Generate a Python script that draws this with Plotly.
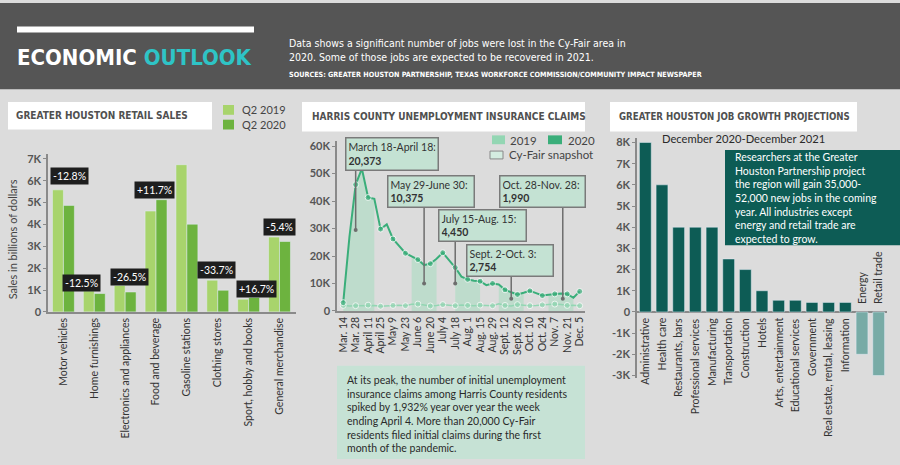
import plotly.graph_objects as go

W, H = 900, 465
def X(px): return px / W
def Y(py): return 1 - py / H

BODY = "Lato, 'Open Sans', sans-serif"
COND = "'DejaVu Sans', sans-serif"
def cond(t):
    return "<span style='font-stretch:condensed'>" + t + "</span>"

# ---------------- data ----------------
retail_categories = ["Motor vehicles", "Home furnishings", "Electronics and appliances",
                     "Food and beverage", "Gasoline stations", "Clothing stores",
                     "Sport, hobby and books", "General merchandise"]
retail_q2_2019 = [5580, 960, 1210, 4610, 6730, 1450, 580, 3420]
retail_q2_2020 = [4870, 840, 910, 5130, 4010, 990, 660, 3220]
retail_change_labels = ["-12.8%", "-12.5%", "-26.5%", "+11.7%", "-40.6%", "-33.7%", "+16.7%", "-5.4%"]

claim_weeks = ["2020-03-14", "2020-03-21", "2020-03-28", "2020-04-04", "2020-04-11", "2020-04-18",
               "2020-04-25", "2020-05-02", "2020-05-09", "2020-05-16", "2020-05-23", "2020-05-30",
               "2020-06-06", "2020-06-13", "2020-06-20", "2020-06-27", "2020-07-04", "2020-07-11",
               "2020-07-18", "2020-07-25", "2020-08-01", "2020-08-08", "2020-08-15", "2020-08-22",
               "2020-08-29", "2020-09-05", "2020-09-12", "2020-09-19", "2020-09-26", "2020-10-03",
               "2020-10-10", "2020-10-17", "2020-10-24", "2020-10-31", "2020-11-07", "2020-11-14",
               "2020-11-21", "2020-11-28", "2020-12-05"]
claims_2020 = [3000, 27000, 46000, 51800, 41300, 40800, 29800, 31500, 26200, 23500, 21000, 19900,
               18700, 16700, 17200, 19000, 21200, 18500, 15800, 12500, 11500, 11000, 10800, 9400,
               10000, 9600, 7700, 6800, 6000, 6600, 7300, 6500, 5600, 5900, 6200, 6300, 6200, 4800, 7100]
claims_2019 = [2000, 1800, 1900, 2000, 2100, 2000, 1700, 1900, 2000, 2100, 1900, 2400, 2500,
               2200, 1800, 2000, 2300, 2100, 1900, 2200, 2000, 1900, 2100, 2000, 1900, 2600,
               2000, 1800, 2300, 2100, 1900, 2000, 2200, 2400, 2500, 2300, 2000, 2100, 1900]
claim_tick_dates = claim_weeks[::2]
claim_tick_labels = ["Mar. 14", "Mar. 28", "April 11", "April 25", "May 9", "May 23", "June 6",
                     "June 20", "July 4", "July 18", "Aug. 1", "Aug. 15", "Aug. 29", "Sept. 12",
                     "Sept. 26", "Oct. 10", "Oct. 24", "Nov. 7", "Nov. 21", "Dec. 5"]
snapshot_start = ["2020-03-14", "2020-05-30", "2020-07-18", "2020-09-05", "2020-10-31"]
snapshot_end = ["2020-04-18", "2020-06-27", "2020-08-15", "2020-10-03", "2020-11-28"]
snapshot_periods = ["March 18-April 18:", "May 29-June 30:", "July 15-Aug. 15:",
                    "Sept. 2-Oct. 3:", "Oct. 28-Nov. 28:"]
snapshot_claims = ["20,373", "10,375", "4,450", "2,754", "1,990"]

job_categories = ["Administrative", "Health care", "Restaurants, bars", "Professional services",
                  "Manufacturing", "Transportation", "Construction", "Hotels",
                  "Arts, entertainment", "Educational services", "Government",
                  "Real estate, rental, leasing", "Information", "Energy", "Retail trade"]
job_growth = [8000, 6000, 4000, 4000, 4000, 2500, 2000, 1000, 550, 550, 450, 450, 450, -2000, -3000]

# ---------------- colors ----------------
BG = "#dcdcdc"
C19 = "#a8d46c"
C20 = "#6db33f"
M19 = "#93d6b3"
M20 = "#3aae7a"
BAND = "rgba(165,220,192,0.55)"
BOX = "#c4e2d3"
TEAL = "#0d5c55"
TEAL_L = "#78aba6"
AXIS = "#8a8a8a"
TXT = "#333333"

fig = go.Figure()

# ---- left: retail bars ----
fig.add_trace(go.Bar(x=retail_categories, y=retail_q2_2019, marker_color=C19,
                     xaxis="x", yaxis="y", offsetgroup="a", showlegend=False))
fig.add_trace(go.Bar(x=retail_categories, y=retail_q2_2020, marker_color=C20,
                     xaxis="x", yaxis="y", offsetgroup="b", showlegend=False))

# ---- middle: claims ----
for s, e in zip(snapshot_start, snapshot_end):
    bx = [d for d in claim_weeks if s <= d <= e]
    by = [v for d, v in zip(claim_weeks, claims_2020) if s <= d <= e]
    fig.add_trace(go.Scatter(x=bx, y=by, mode="none", fill="tozeroy", fillcolor=BAND,
                             xaxis="x2", yaxis="y2", showlegend=False, hoverinfo="skip"))
msize = [6 if i % 2 == 0 else 0 for i in range(len(claim_weeks))]
fig.add_trace(go.Scatter(x=claim_weeks, y=claims_2019, mode="lines+markers",
                         line=dict(color=M19, width=1.5), marker=dict(size=msize, color=M19),
                         xaxis="x2", yaxis="y2", showlegend=False))
fig.add_trace(go.Scatter(x=claim_weeks, y=claims_2020, mode="lines+markers",
                         line=dict(color=M20, width=2), marker=dict(size=msize, color=M20),
                         xaxis="x2", yaxis="y2", showlegend=False))

# ---- right: job growth ----
fig.add_trace(go.Bar(x=job_categories, y=job_growth,
                     marker_color=[TEAL if v >= 0 else TEAL_L for v in job_growth],
                     xaxis="x3", yaxis="y3", showlegend=False))

shapes = []
ann = []

def rect(x0, y0, x1, y1, fill, line=None, lw=0):
    shapes.append(dict(type="rect", xref="paper", yref="paper", x0=X(x0), x1=X(x1),
                       y0=Y(y1), y1=Y(y0), fillcolor=fill,
                       line=dict(color=line or fill, width=lw), layer="below"))

def text(x, y, t, size=11, color=TXT, family=BODY, xanchor="left", yanchor="middle",
         weight="normal", align="left", angle=0):
    ann.append(dict(xref="paper", yref="paper", x=X(x), y=Y(y), text=t, showarrow=False,
                    xanchor=xanchor, yanchor=yanchor, align=align, textangle=angle,
                    font=dict(size=size, color=color, family=family, weight=weight)))

# header
rect(0, 0, 900, 88, "#555555")
rect(17, 24, 254, 30, "#ffffff")
text(15, 56, cond("ECONOMIC <span style='color:#2ec4c6'>OUTLOOK</span>"), size=22,
     color="#ffffff", family=COND, weight="bold")
text(287, 48, cond("Data shows a significant number of jobs were lost in the Cy-Fair area in<br>"
     "2020. Some of those jobs are expected to be recovered in 2021."),
     size=10.5, color="#ffffff", family=COND)
text(287, 73, cond("SOURCES: GREATER HOUSTON PARTNERSHIP, TEXAS WORKFORCE COMMISSION/COMMUNITY IMPACT NEWSPAPER"),
     size=7.2, color="#ffffff", family=COND, weight="bold")

# section title boxes
rect(8, 101, 212, 129, "#ffffff")
text(14, 115, cond("GREATER HOUSTON RETAIL SALES"), size=10, color="#505050", family=COND, weight="bold")
rect(302, 101, 585, 131, "#ffffff")
text(310, 116, cond("HARRIS COUNTY UNEMPLOYMENT INSURANCE CLAIMS"), size=10, color="#505050",
     family=COND, weight="bold")
rect(610, 101, 857, 131, "#ffffff")
text(617, 116, cond("GREATER HOUSTON JOB GROWTH PROJECTIONS"), size=9.6, color="#505050",
     family=COND, weight="bold")

# left legend
rect(223, 104, 234, 114, C19)
rect(223, 119, 234, 129, C20)
text(240, 109, "Q2 2019", size=11, color="#444")
text(240, 124, "Q2 2020", size=11, color="#444")
text(12, 241, "Sales in billions of dollars", size=11, color="#444", xanchor="center", angle=-90)

# change labels on retail bars
label_y = [6230, 1300, 1610, 5560, 7310, 1930, 1030, 3860]
label_dx = [6, -13, 4, -2, 1, -1, 8, 0]
for c, lab, ly, dx in zip(retail_categories, retail_change_labels, label_y, label_dx):
    ann.append(dict(xref="x", yref="y", x=c, y=ly, text=lab, showarrow=False, xshift=dx,
                    bgcolor="#1e1e1e", borderpad=2,
                    font=dict(size=10.5, color="#ffffff", family=BODY)))

# middle legend
rect(492, 135, 505, 144, M19)
text(508, 140, "2019", size=11.5, color="#444")
rect(548, 135, 562, 144, M20)
text(566, 140, "2020", size=11.5, color="#444")
rect(490, 151, 503, 159, "#d4ece0", line="#888", lw=1)
text(507, 155, "Cy-Fair snapshot", size=11.5, color="#444")

# snapshot pointer lines
ptr_x = ["2020-03-28", "2020-06-13", "2020-07-18", "2020-09-19", "2020-11-16"]
ptr_y0 = [29500, 10000, 10000, 4400, 4400]
ptr_y1 = [51000, 38000, 25400, 12900, 38000]
for px_, a, b in zip(ptr_x, ptr_y0, ptr_y1):
    shapes.append(dict(type="line", xref="x2", yref="y2", x0=px_, x1=px_, y0=a, y1=b,
                       line=dict(color="#6e6e6e", width=1.5)))
fig.add_trace(go.Scatter(x=ptr_x, y=ptr_y0, mode="markers", marker=dict(size=4, color="#6e6e6e"),
                         xaxis="x2", yaxis="y2", showlegend=False, hoverinfo="skip"))

box_pos = [(345, 137, 95, 34), (387, 175, 89, 33), (438, 210, 90, 33),
           (466, 246, 89, 33), (499, 175, 88, 33)]
for (bx, by, bw, bh), p, n in zip(box_pos, snapshot_periods, snapshot_claims):
    ann.append(dict(xref="paper", yref="paper", x=X(bx), y=Y(by), xanchor="left", yanchor="top",
                    text=f"{p}<br><b>{n}</b>", showarrow=False, align="left",
                    width=bw - 8, height=bh - 7, bgcolor=BOX, bordercolor="#7a7a7a",
                    borderwidth=1.5, borderpad=2,
                    font=dict(size=10.5, color=TXT, family=BODY)))

# middle bottom text box
rect(337, 370, 585, 465, "#c6e2d5")
text(345, 419, "At its peak, the number of initial unemployment<br>"
     "insurance claims among Harris County residents<br>"
     "spiked by 1,932% year over year the week<br>"
     "ending April 4. More than 20,000 Cy-Fair<br>"
     "residents filed initial claims during the first<br>"
     "month of the pandemic.", size=10.5, color="#2a2a2a")

# right chart extras
text(743, 138, "December 2020-December 2021", size=11.2, color="#2a2a2a", xanchor="center")
rect(725, 150, 900, 247, TEAL)
text(733, 199, "Researchers at the Greater<br>Houston Partnership project<br>"
     "the region will gain 35,000-<br>52,000 new jobs in the coming<br>"
     "year. All industries except<br>energy and retail trade are<br>expected to grow.",
     size=10.5, color="#ffffff")
for c, v in zip(job_categories, job_growth):
    ann.append(dict(xref="x3", yref="y3", x=c, y=0, text=c, showarrow=False, textangle=-90,
                    xanchor="center", yanchor="top" if v >= 0 else "bottom",
                    yshift=-4 if v >= 0 else 6,
                    font=dict(size=10.5, color=TXT, family=BODY)))

axis_common = dict(showgrid=False, zeroline=False, fixedrange=True)
fig.update_layout(
    width=W, height=H, margin=dict(l=0, r=0, t=0, b=0),
    paper_bgcolor=BG, plot_bgcolor="rgba(0,0,0,0)",
    barmode="group", bargap=0.29, bargroupgap=0,
    shapes=shapes, annotations=ann, showlegend=False,
    xaxis=dict(domain=[X(48), X(296)], anchor="y", type="category", showline=True,
               linecolor=AXIS, linewidth=1.5, ticks="", tickangle=-90,
               tickfont=dict(size=10.5, color=TXT, family=BODY), **axis_common),
    yaxis=dict(domain=[Y(315), Y(154.4)], anchor="x", range=[0, 7200],
               tickvals=[0, 1000, 2000, 3000, 4000, 5000, 6000, 7000],
               ticktext=["0", "1K", "2K", "3K", "4K", "5K", "6K", "7K"],
               showline=True, linecolor=AXIS, linewidth=1.5, ticks="outside", ticklen=3,
               tickcolor=AXIS, tickfont=dict(size=11, color="#555", family=BODY, weight="bold"),
               **axis_common),
    xaxis2=dict(domain=[X(337), X(585)], anchor="y2", type="date",
                range=["2020-03-07", "2020-12-11"], tickvals=claim_tick_dates,
                ticktext=claim_tick_labels, tickangle=-90, showline=True, linecolor=AXIS,
                linewidth=1.5, ticks="",
                tickfont=dict(size=10.5, color=TXT, family=BODY), **axis_common),
    yaxis2=dict(domain=[Y(314), Y(140.4)], anchor="x2", range=[0, 62000],
                tickvals=[0, 10000, 20000, 30000, 40000, 50000, 60000],
                ticktext=["0", "10K", "20K", "30K", "40K", "50K", "60K"],
                showline=True, linecolor=AXIS, linewidth=1.5, ticks="outside", ticklen=3,
                tickcolor=AXIS, tickfont=dict(size=11, color="#555", family=BODY, weight="bold"),
                **axis_common),
    xaxis3=dict(domain=[X(637), X(887)], anchor="y3", type="category", showline=False,
                showticklabels=False, ticks="", **axis_common),
    yaxis3=dict(domain=[Y(382), Y(137.9)], anchor="x3", range=[-3100, 8200],
                tickvals=list(range(-3000, 8001, 1000)),
                ticktext=["-3K", "-2K", "-1K", "0", "1K", "2K", "3K", "4K", "5K", "6K", "7K", "8K"],
                showline=True, linecolor=AXIS, linewidth=1.5, ticks="outside", ticklen=3,
                tickcolor=AXIS, tickfont=dict(size=11, color="#555", family=BODY, weight="bold"),
                showgrid=False, zeroline=True, zerolinecolor=AXIS, zerolinewidth=2,
                fixedrange=True),
)

fig.write_html("out.html", config={"displayModeBar": False},
               post_script="document.body.style.margin='0px';")
